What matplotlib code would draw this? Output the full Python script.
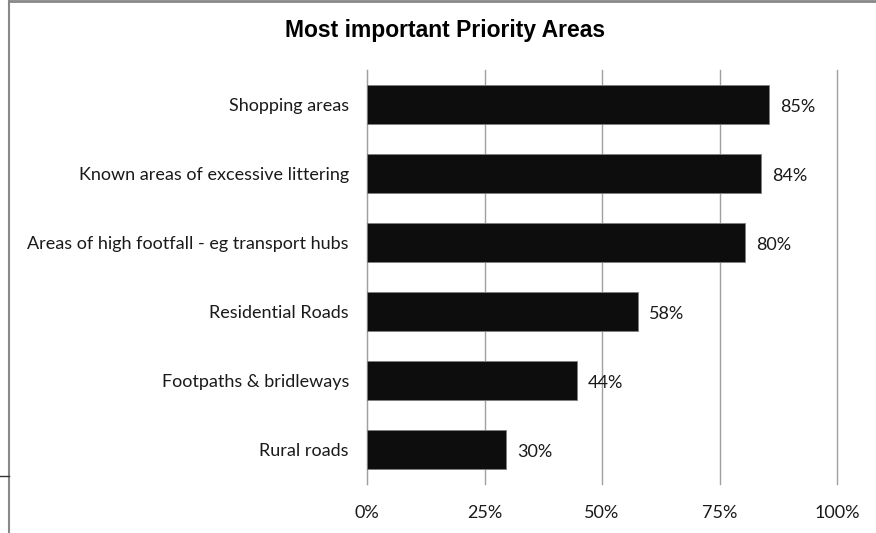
import matplotlib
matplotlib.use("Agg")
import matplotlib.pyplot as plt
from matplotlib.lines import Line2D

categories = ["Shopping areas", "Known areas of excessive littering",
              "Areas of high footfall - eg transport hubs", "Residential Roads",
              "Footpaths & bridleways", "Rural roads"]
values = [85.5, 83.8, 80.4, 57.7, 44.7, 29.6]
labels = ["85%", "84%", "80%", "58%", "44%", "30%"]
xticks = [0, 25, 50, 75, 100]
xticklabels = ["0%", "25%", "50%", "75%", "100%"]

W, H = 876, 533
fig = plt.figure(figsize=(W/100, H/100), dpi=100)
ax = fig.add_axes([367/W, 1-484/H, 470/W, 414/H])

FS = 13
y = list(range(len(categories)))
ax.barh(y, values, height=0.57, color="#0d0d0d", edgecolor="#7f7f7f", linewidth=0.6, zorder=3)
ax.set_ylim(len(categories)-0.5, -0.5)
ax.set_xlim(0, 100)
ax.set_yticks(y)
ax.set_yticklabels(categories, fontsize=FS, family="Lato", color="#1a1a1a")
ax.set_xticks(xticks)
ax.set_xticklabels(xticklabels, fontsize=FS, family="Lato", color="#1a1a1a")
ax.tick_params(axis="y", length=0, pad=13)
ax.tick_params(axis="x", length=0, pad=15)
ax.grid(axis="x", color="#a0a0a0", linewidth=1, zorder=0)
for gl in ax.get_xgridlines():
    gl.set_clip_on(False)
for s in ["top", "right", "bottom"]:
    ax.spines[s].set_visible(False)
ax.spines["left"].set_color("#a0a0a0")

for yi, v, lab in zip(y, values, labels):
    ax.annotate(lab, (v, yi), xytext=(8, -2), textcoords="offset points",
                va="center", ha="left", fontsize=FS, family="Lato", color="#1a1a1a", zorder=4)

fig.text(445/W, 1-31/H, "Most important Priority Areas", ha="center", va="center",
         fontsize=16.5, fontweight="bold", family="Liberation Sans")

# outer border lines
fig.add_artist(Line2D([8.5/W, 8.5/W], [0, 1], transform=fig.transFigure, color="#888888", linewidth=1.5))
fig.add_artist(Line2D([8.5/W, 1], [1-0.8/H, 1-0.8/H], transform=fig.transFigure, color="#888888", linewidth=2))
fig.add_artist(Line2D([0, 8.5/W], [1-476/H, 1-476/H], transform=fig.transFigure, color="#333333", linewidth=1))

fig.savefig("out.png", dpi=100)
